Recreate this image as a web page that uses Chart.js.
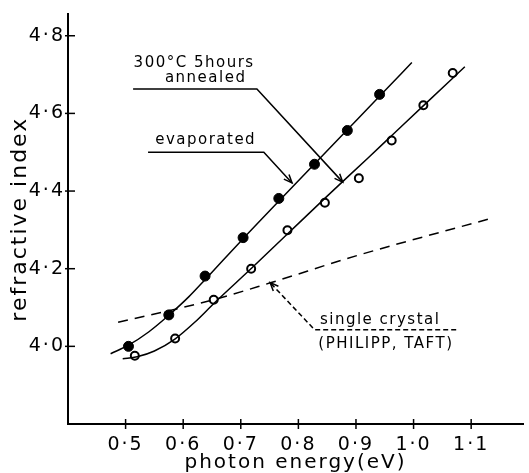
<!DOCTYPE html>
<html lang="en">
<head>
  <meta charset="UTF-8" />
  <title>Refractive index vs photon energy</title>
  <script src="https://cdn.jsdelivr.net/npm/chart.js"></script>
  <style>
    body { margin: 0; background: #fff; }
    .wrap { width: 529px; height: 473px; position: relative; }
  </style>
</head>
<body>
  <div class="wrap"><canvas id="nChart"></canvas></div>

  <script>
    // tick values
    const xTicks = [0.5, 0.6, 0.7, 0.8, 0.9, 1.0, 1.1];
    const yTicks = [4.0, 4.2, 4.4, 4.6, 4.8];

    // measured points: evaporated (filled circles)
    const evapX = [0.505, 0.575, 0.638, 0.704, 0.766, 0.828, 0.885, 0.941];
    const evapY = [4.000, 4.081, 4.181, 4.280, 4.381, 4.469, 4.556, 4.649];

    // measured points: 300°C 5 hours annealed (open circles)
    const annX = [0.516, 0.586, 0.653, 0.718, 0.781, 0.846, 0.905, 0.962, 1.017, 1.068];
    const annY = [3.976, 4.020, 4.120, 4.200, 4.299, 4.370, 4.433, 4.530, 4.621, 4.704];

    // drawn curves through the data
    const evapCurveX = [0.474, 0.505, 0.540, 0.575, 0.610, 0.640, 0.700, 0.770, 0.830, 0.885, 0.940, 0.997];
    const evapCurveY = [3.981, 4.003, 4.037, 4.080, 4.128, 4.175, 4.271, 4.380, 4.473, 4.558, 4.643, 4.731];
    const annCurveX = [0.495, 0.520, 0.550, 0.585, 0.620, 0.655, 0.720, 0.780, 0.850, 0.920, 0.965, 1.020, 1.089];
    const annCurveY = [3.968, 3.973, 3.988, 4.018, 4.062, 4.113, 4.203, 4.288, 4.387, 4.484, 4.547, 4.624, 4.720];

    // single crystal (Philipp, Taft), dashed
    const crystalX = [0.487, 0.650, 0.750, 0.900, 1.133];
    const crystalY = [4.062, 4.119, 4.163, 4.233, 4.329];

    const pts = (xs, ys) => xs.map((x, i) => ({ x: x, y: ys[i] }));
    const fmt = v => v.toFixed(1).replace('.', '\u00B7');
    const FONT = "'DejaVu Sans', sans-serif";

    // wide letter spacing like the original lettering
    const spacing = {
      id: 'spacing',
      beforeDraw(chart) { chart.ctx.letterSpacing = '2px'; },
      beforeDatasetsDraw(chart) { chart.ctx.letterSpacing = '0px'; }
    };

    // cross-shaped tick marks and the text labels with their leader arrows
    const decor = {
      id: 'decor',
      afterDraw(chart) {
        const ctx = chart.ctx;
        const xs = chart.scales.x, ys = chart.scales.y;
        const X = v => xs.getPixelForValue(v);
        const Y = v => ys.getPixelForValue(v);
        ctx.save();
        ctx.strokeStyle = '#000';
        ctx.fillStyle = '#000';
        ctx.lineWidth = 1.5;

        // ticks
        const axisY = chart.chartArea.bottom, axisX = chart.chartArea.left;
        xTicks.forEach(v => {
          ctx.beginPath();
          ctx.moveTo(X(v), axisY - 5);
          ctx.lineTo(X(v), axisY + 5);
          ctx.stroke();
        });
        yTicks.forEach(v => {
          ctx.beginPath();
          ctx.moveTo(axisX - 3, Y(v));
          ctx.lineTo(axisX + 7, Y(v));
          ctx.stroke();
        });

        const line = (p, dash) => {
          ctx.setLineDash(dash || []);
          ctx.beginPath();
          ctx.moveTo(X(p[0][0]), Y(p[0][1]));
          for (let i = 1; i < p.length; i++) ctx.lineTo(X(p[i][0]), Y(p[i][1]));
          ctx.stroke();
          ctx.setLineDash([]);
        };
        const head = (from, to) => {
          const x1 = X(from[0]), y1 = Y(from[1]), x2 = X(to[0]), y2 = Y(to[1]);
          const a = Math.atan2(y2 - y1, x2 - x1);
          ctx.beginPath();
          ctx.moveTo(x2 - 9 * Math.cos(a - 0.4), y2 - 9 * Math.sin(a - 0.4));
          ctx.lineTo(x2, y2);
          ctx.lineTo(x2 - 9 * Math.cos(a + 0.4), y2 - 9 * Math.sin(a + 0.4));
          ctx.stroke();
        };
        const text = (s, x, y) => {
          ctx.font = '15px ' + FONT;
          ctx.textAlign = 'center';
          ctx.textBaseline = 'middle';
          ctx.letterSpacing = '1.5px';
          ctx.fillText(s, X(x), Y(y));
        };

        // 300°C 5hours annealed
        text('300°C 5hours', 0.619, 4.730);
        text('annealed', 0.639, 4.691);
        line([[0.513, 4.663], [0.728, 4.663], [0.877, 4.423]]);
        head([0.728, 4.663], [0.877, 4.423]);

        // evaporated
        text('evaporated', 0.639, 4.530);
        line([[0.539, 4.500], [0.740, 4.500], [0.789, 4.421]]);
        head([0.740, 4.500], [0.789, 4.421]);

        // single crystal
        text('single crystal', 0.942, 4.068);
        text('(PHILIPP, TAFT)', 0.952, 4.006);
        line([[1.074, 4.043], [0.828, 4.043], [0.751, 4.164]], [5, 3]);
        head([0.828, 4.043], [0.751, 4.164]);

        ctx.restore();
      }
    };

    new Chart(document.getElementById('nChart'), {
      type: 'scatter',
      data: {
        datasets: [
          {
            label: 'evaporated curve',
            data: pts(evapCurveX, evapCurveY),
            showLine: true, borderColor: '#000', borderWidth: 1.5,
            pointRadius: 0, tension: 0.4, cubicInterpolationMode: 'monotone'
          },
          {
            label: 'annealed curve',
            data: pts(annCurveX, annCurveY),
            showLine: true, borderColor: '#000', borderWidth: 1.5,
            pointRadius: 0, tension: 0.4, cubicInterpolationMode: 'monotone'
          },
          {
            label: 'single crystal',
            data: pts(crystalX, crystalY),
            showLine: true, borderColor: '#000', borderWidth: 1.5,
            borderDash: [10, 7], pointRadius: 0, tension: 0.4, cubicInterpolationMode: 'monotone'
          },
          {
            label: 'evaporated',
            data: pts(evapX, evapY),
            pointRadius: 5, backgroundColor: '#000', borderColor: '#000', borderWidth: 1
          },
          {
            label: '300°C 5hours annealed',
            data: pts(annX, annY),
            pointRadius: 4, backgroundColor: '#fff', borderColor: '#000', borderWidth: 2
          }
        ]
      },
      options: {
        responsive: true,
        maintainAspectRatio: false,
        animation: false,
        layout: { padding: { top: 13, right: 0, left: 0, bottom: 0 } },
        plugins: { legend: { display: false }, tooltip: { enabled: false } },
        scales: {
          x: {
            type: 'linear', min: 0.4, max: 1.19,
            afterBuildTicks: s => { s.ticks = xTicks.map(v => ({ value: v })); },
            afterFit: s => { s.height = 49; },
            grid: { display: false, drawTicks: false },
            border: { display: true, color: '#000', width: 2 },
            ticks: { color: '#000', font: { family: FONT, size: 19 }, padding: 10, callback: v => fmt(v) },
            title: {
              display: true, text: 'photon energy(eV)', color: '#000',
              font: { family: FONT, size: 20, lineHeight: 1 }, padding: 0
            }
          },
          y: {
            type: 'linear', min: 3.8, max: 4.855,
            afterBuildTicks: s => { s.ticks = yTicks.map(v => ({ value: v })); },
            afterFit: s => { s.width = 68; },
            grid: { display: false, drawTicks: false },
            border: { display: true, color: '#000', width: 2 },
            ticks: { color: '#000', font: { family: FONT, size: 19 }, padding: 3, callback: v => fmt(v) },
            title: {
              display: true, text: 'refractive index', color: '#000',
              font: { family: FONT, size: 22, lineHeight: 1 }, padding: { top: 9, bottom: 0 }
            }
          }
        }
      },
      plugins: [spacing, decor]
    });
  </script>
</body>
</html>
